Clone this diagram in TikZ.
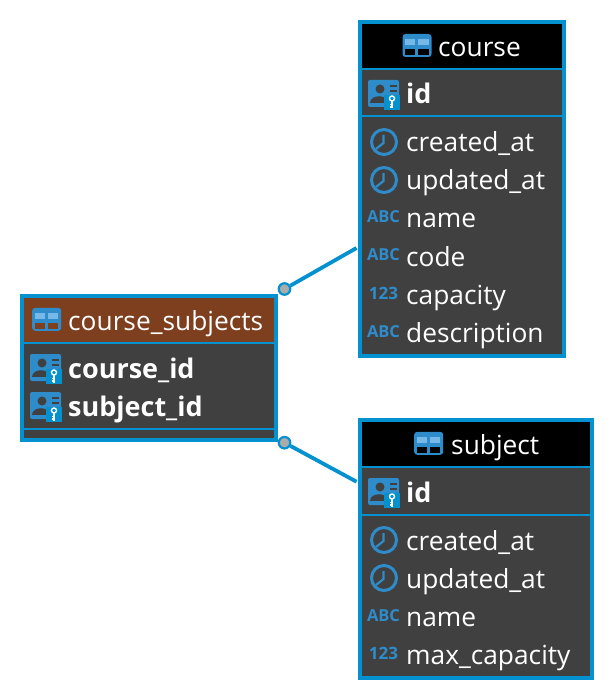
\documentclass[tikz,border=0pt]{standalone}
\usepackage{fontspec}
\setmainfont{Open Sans}
\usepackage{xcolor}
\usetikzlibrary{positioning,calc}
\definecolor{edge}{RGB}{3,145,208}
\definecolor{body}{RGB}{64,64,64}
\definecolor{brown}{RGB}{126,63,31}
\definecolor{iconblue}{RGB}{47,140,203}
\definecolor{panelight}{RGB}{118,184,232}
\begin{document}
\begin{tikzpicture}[
  x=1pt, y=-1pt,
  font=\fontsize{26.3}{30}\selectfont,
  tbl/.style={draw=edge, line width=4pt, fill=body, inner sep=0pt},
  hdr/.style={fill=#1, inner sep=0pt, minimum width=0pt},
  title/.style={text=white, anchor=base west, inner sep=0pt, yshift=-1pt},
  fld/.style={text=white, anchor=base west, inner sep=0pt, yshift=-1pt},
  pk/.style={fld, font=\fontsize{27}{30}\selectfont\bfseries},
  sep/.style={draw=edge, line width=2pt},
  dot/.style={circle, draw=edge, line width=2.2pt, fill=black!33, inner sep=0pt, minimum size=11.5pt},
  lk/.style={draw=edge, line width=3.8pt},
  pics/tblicon/.style={code={
    \fill[iconblue, rounded corners=3pt] (-14.5,-11.5) rectangle (14.5,11.5);
    \fill[panelight] (-12,-6) rectangle (-2,-0.5);
    \fill[panelight] (1,-6) rectangle (11.5,-0.5);
    \fill[#1] (-12,3.5) rectangle (-2,9.5);
    \fill[#1] (1,3.5) rectangle (11.5,9.5);
  }},
  pics/keyicon/.style={code={
    \fill[iconblue, rounded corners=2pt] (-16,-15) rectangle (15,12);
    \fill[body] (-4,-6) circle (4.5pt);
    \fill[body] (-14,8) .. controls (-14,-1) and (4,-1) .. (4,8) -- cycle;
    \fill[body] (6,-10) rectangle (13,-8);
    \fill[body] (6,-5) rectangle (13,-3);
    \fill[edge] (0,0) rectangle (16,15);
    \draw[white, line width=1.4pt] (8,3.5) circle (2.5pt);
    \draw[white, line width=1.6pt] (8,6) -- (8,13.5);
    \draw[white, line width=1.2pt] (8,9.5) -- (5.5,9.5) (8,12) -- (5.5,12);
  }},
  pics/clockicon/.style={code={
    \draw[iconblue, line width=3pt] (0,0) circle (12.5pt);
    \draw[iconblue, line width=2.2pt] (-0.5,-7) -- (-0.5,1) -- (-8,7);
  }},
  pics/abcicon/.style={code={
    \node[text=iconblue, font=\fontsize{16.5}{16}\selectfont\bfseries, inner sep=0pt, anchor=base] (lbl) at (0,0) {ABC};
  }},
  pics/numicon/.style={code={
    \node[text=iconblue, font=\fontsize{17}{18}\selectfont\bfseries, inner sep=0pt, anchor=base] (lbl) at (0,0) {123};
  }},
]
\useasboundingbox (0,0) rectangle (614,700);
% course
\node[tbl, minimum width=204pt, minimum height=334pt] (crs) at (462,189) {};
\node[hdr=black, minimum width=200pt, minimum height=44.5pt] (crs_hdr) at (462,46.25) {};
\draw[sep] (crs_hdr.south west) -- (crs_hdr.south east);
\draw[sep] (crs.west |- 0,116.5) -- (crs.east |- 0,116.5);
\pic at (417,45.5) {tblicon=black};
\node[title] (crs_title) at (438,56) {course};
\pic at (384,95) {keyicon};
\node[pk] (crs_id) at (406,103) {id};
\pic at (384,142) {clockicon};
\node[fld] (crs_created) at (406,151) {created\_at};
\pic at (384,180) {clockicon};
\node[fld] (crs_updated) at (406,189) {updated\_at};
\pic (crs_a) at (383.5,223) {abcicon};
\node[fld] (crs_name) at (406,227) {name};
\pic (crs_b) at (383.5,261) {abcicon};
\node[fld] (crs_code) at (406,265) {code};
\pic (crs_c) at (383.5,299) {numicon};
\node[fld] (crs_cap) at (406,303) {capacity};
\pic (crs_d) at (383.5,337) {abcicon};
\node[fld] (crs_desc) at (406,341) {description};
% course_subjects
\node[tbl, minimum width=254pt, minimum height=144pt] (cs) at (149,368) {};
\node[hdr=brown, minimum width=250pt, minimum height=45pt] (cs_hdr) at (149,320.5) {};
\draw[sep] (cs_hdr.south west) -- (cs_hdr.south east);
\draw[sep] (cs.west |- 0,429) -- (cs.east |- 0,429);
\pic at (46.7,319.3) {tblicon=brown};
\node[title] (cs_title) at (68,329) {course\_subjects};
\pic at (46,369) {keyicon};
\node[pk] (cs_course) at (68,377) {course\_id};
\pic at (46,407) {keyicon};
\node[pk] (cs_subject) at (68,415) {subject\_id};
% subject
\node[tbl, minimum width=232pt, minimum height=258pt] (sbj) at (476,549) {};
\node[hdr=black, minimum width=228pt, minimum height=45pt] (sbj_hdr) at (476,444.5) {};
\draw[sep] (sbj_hdr.south west) -- (sbj_hdr.south east);
\draw[sep] (sbj.west |- 0,515) -- (sbj.east |- 0,515);
\pic at (428.7,443.3) {tblicon=black};
\node[title] (sbj_title) at (451,453) {subject};
\pic at (384,493) {keyicon};
\node[pk] (sbj_id) at (406,501) {id};
\pic at (384,540) {clockicon};
\node[fld] (sbj_created) at (406,549) {created\_at};
\pic at (384,578) {clockicon};
\node[fld] (sbj_updated) at (406,587) {updated\_at};
\pic (sbj_a) at (383.5,621) {abcicon};
\node[fld] (sbj_name) at (406,625) {name};
\pic (sbj_b) at (383.5,659) {numicon};
\node[fld] (sbj_max) at (406,663) {max\_capacity};
% links
\node[dot] (dot_crs) at (284.5,289) {};
\node[dot] (dot_sbj) at (284.5,442.7) {};
\coordinate (end_crs) at (356.5,248);
\coordinate (end_sbj) at (356.5,481.7);
\draw[lk] (dot_crs) -- (end_crs);
\draw[lk] (dot_sbj) -- (end_sbj);
\end{tikzpicture}
\end{document}
